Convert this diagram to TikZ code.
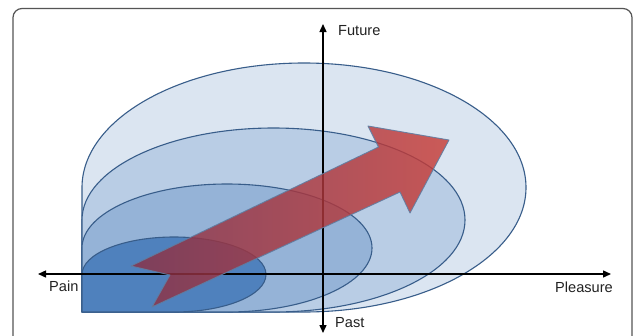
\documentclass[tikz,border=0pt]{standalone}
\usepackage{fontspec}
\setmainfont{Liberation Sans}
\usetikzlibrary{arrows.meta}
\definecolor{layerA}{HTML}{DBE5F1}
\definecolor{layerB}{HTML}{B9CDE5}
\definecolor{layerC}{HTML}{95B3D7}
\definecolor{layerD}{HTML}{4F81BD}
\definecolor{edgeblue}{HTML}{385D8A}
\definecolor{arrowdark}{RGB}{136,49,71}
\definecolor{arrowlight}{RGB}{200,60,54}
\definecolor{framegray}{HTML}{555555}
\definecolor{textgray}{HTML}{222222}
\tikzset{
  layer/.style={draw=edgeblue, line width=1.1pt, line join=round},
  axisline/.style={line width=1.4pt, black, -{Triangle[length=8pt,width=7pt]}},
  lbl/.style={inner sep=0pt, anchor=west, text=textgray, font=\fontsize{14.6}{16}\selectfont},
  bigarrow/.style={left color=arrowdark, right color=arrowlight, fill opacity=0.82,
    draw=edgeblue!80, draw opacity=0.9, line width=0.9pt, line join=round}
}
\begin{document}
\begin{tikzpicture}[x=1pt,y=-1pt]
\useasboundingbox (0,0) rectangle (635,335);
\clip (0,0) rectangle (635,335);
\fill[white] (0,0) rectangle (635,335);
% frame
\draw[framegray, line width=1.2pt, rounded corners=9pt] (13,8.5) rectangle (632,360);
% nested layers
\path[layer, fill=layerA] (82,312) -- (82,187.5)
  arc[start angle=180, end angle=450, x radius=222, y radius=124.5] -- cycle;
\path[layer, fill=layerB] (82,312) -- (82,220)
  arc[start angle=180, end angle=450, x radius=191.5, y radius=92] -- cycle;
\path[layer, fill=layerC] (82,312) -- (82,248)
  arc[start angle=180, end angle=450, x radius=145, y radius=64] -- cycle;
\path[layer, fill=layerD] (82,312) -- (82,274.5)
  arc[start angle=180, end angle=450, x radius=92, y radius=37.5] -- cycle;
% axes
\coordinate (o) at (323,274);
\coordinate (left) at (38,274);
\coordinate (right) at (611,274);
\coordinate (top) at (323,24);
\coordinate (bottom) at (323,333);
\draw[axisline] (o) -- (left);
\draw[axisline] (o) -- (right);
\draw[axisline] (o) -- (top);
\draw[axisline] (o) -- (bottom);
% big arrow
\shadedraw[bigarrow] (131,266) -- (378.5,147) -- (368,126) -- (449,140)
  -- (410,213) -- (400,192) -- (152,307) -- (170,275) -- cycle;
% labels
\node[lbl] (future) at (338,31) {Future};
\node[lbl] (past) at (335,323) {Past};
\node[lbl] (pain) at (49,286) {Pain};
\node[lbl] (pleasure) at (555,287) {Pleasure};
\end{tikzpicture}
\end{document}
